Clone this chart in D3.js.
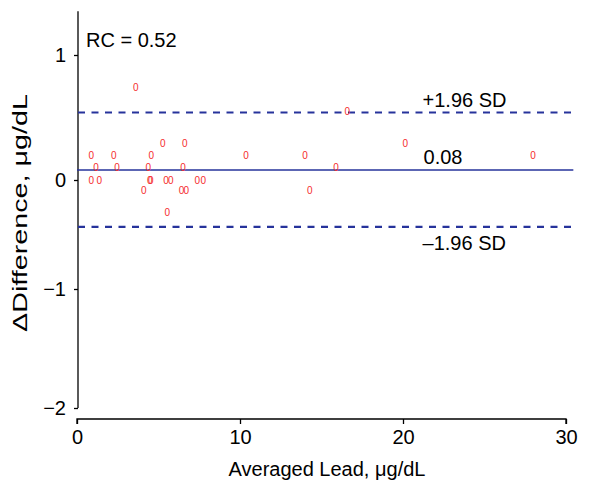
<!DOCTYPE html>
<html>
<head>
<meta charset="utf-8">
<script src="https://cdn.jsdelivr.net/npm/d3@7"></script>
<style>
    body { margin: 0; background: #fff; }
    text { font-family: "Liberation Sans", Arial, sans-serif; }
    .axis path, .axis line { stroke: #000; stroke-width: 1.3px; }
    .axis text { font-size: 20px; fill: #000; }
</style>
</head>
<body>
<div id="chart"></div>
<script>
// averaged lead (x) and difference (y) for each pair
const avgLead = [3.6, 0.88, 2.25, 4.56, 10.37, 5.26, 6.61, 1.17, 2.45, 4.37, 6.5,
    0.88, 1.37, 4.47, 4.53, 5.46, 5.75, 7.38, 7.75, 4.09, 6.42, 6.71, 5.54,
    16.58, 20.14, 13.99, 15.89, 14.28, 27.98];
const diffs = [0.74, 0.2, 0.2, 0.2, 0.2, 0.29, 0.29, 0.1, 0.1, 0.1, 0.1,
    0, 0, 0, 0, 0, 0, 0, 0, -0.1, -0.1, -0.1, -0.3,
    0.55, 0.29, 0.2, 0.1, -0.1, 0.2];

const meanDiff = 0.08;
const upperLimit = 0.54;
const lowerLimit = -0.43;
const xTicks = [0, 10, 20, 30];
const yTicks = [-2, -1, 0, 1];

const width = 591;
const height = 481;

const svg = d3.select('#chart').append('svg')
    .attr('width', width)
    .attr('height', height);

const x = d3.scaleLinear().domain([0, 30]).range([77, 566]);
// tick spacing in the original is uneven, so map each tick to where it sits
const y = d3.scaleLinear().domain([-2, -1, 0, 1]).range([408, 289, 180, 55]);

// axes
svg.append('g')
    .attr('class', 'axis')
    .attr('transform', 'translate(0,419)')
    .call(d3.axisBottom(x).tickValues(xTicks).tickSizeInner(5).tickSizeOuter(0).tickPadding(6))
    .call(g => g.select('.domain').attr('d', `M${x(0)},5V0H${x(30)}V5`));

const yAxis = svg.append('g')
    .attr('class', 'axis')
    .attr('transform', 'translate(78,0)')
    .call(d3.axisLeft(y).tickValues(yTicks).tickFormat(d3.format('d'))
        .tickSizeInner(4).tickSizeOuter(0).tickPadding(8));
yAxis.select('.domain').attr('d', `M0,${y(-2)}V${y(1.35)}`);

// reference lines
const lineColor = '#26339b';
const xEnd = 30.45;

svg.append('line')
    .attr('x1', x(0)).attr('x2', x(xEnd))
    .attr('y1', y(meanDiff)).attr('y2', y(meanDiff))
    .attr('stroke', lineColor).attr('stroke-width', 1.6);

[upperLimit, lowerLimit].forEach(v => {
    svg.append('line')
        .attr('x1', x(0) + 1).attr('x2', x(xEnd))
        .attr('y1', y(v)).attr('y2', y(v))
        .attr('stroke', lineColor).attr('stroke-width', 2.2)
        .attr('stroke-dasharray', '7,6.5');
});

// points drawn as small "0" glyphs
svg.selectAll('.pt')
    .data(avgLead.map((d, i) => ({ x: d, y: diffs[i] })))
    .enter()
    .append('text')
    .attr('class', 'pt')
    .attr('x', d => x(d.x))
    .attr('y', d => y(d.y))
    .attr('dy', '0.35em')
    .attr('text-anchor', 'middle')
    .attr('font-size', 10)
    .attr('fill', '#f52d2d')
    .text('0');

// annotations
const labelX = 21.2;
svg.append('text').attr('x', x(labelX)).attr('y', y(upperLimit) - 6)
    .attr('font-size', 20).text('+1.96 SD');
svg.append('text').attr('x', x(labelX) + 1).attr('y', y(meanDiff) - 6)
    .attr('font-size', 20).text(meanDiff.toFixed(2));
svg.append('text').attr('x', x(labelX)).attr('y', y(lowerLimit) + 23)
    .attr('font-size', 20).text('\u20131.96 SD');
svg.append('text').attr('x', 86).attr('y', 47)
    .attr('font-size', 20).text('RC = 0.52');

// axis titles
svg.append('text')
    .attr('x', 327).attr('y', 476)
    .attr('text-anchor', 'middle')
    .attr('font-size', 20)
    .text('Averaged Lead, μg/dL');

// the original y title is stretched along its length
svg.append('text')
    .attr('transform', 'translate(27,213) rotate(-90)')
    .attr('text-anchor', 'middle')
    .attr('font-size', 20)
    .attr('textLength', 238)
    .attr('lengthAdjust', 'spacingAndGlyphs')
    .text('ΔDifference, μg/dL');
</script>
</body>
</html>
